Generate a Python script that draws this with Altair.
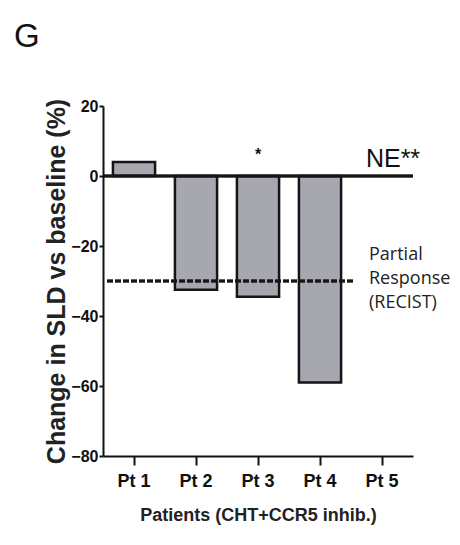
import altair as alt
import pandas as pd

patients = ["Pt 1", "Pt 2", "Pt 3", "Pt 4", "Pt 5"]
bar_patients = ["Pt 1", "Pt 2", "Pt 3", "Pt 4"]
bar_values = [4, -32.5, -34.5, -59]
y_ticks = [-80, -60, -40, -20, 0, 20]
pr_threshold = -30

SANS = "Liberation Sans, Arial"

bars_df = pd.DataFrame({"patient": bar_patients, "value": bar_values})

xscale = alt.Scale(domain=patients, paddingInner=0.32, paddingOuter=0.16)
yscale = alt.Scale(domain=[-80, 20], nice=False, zero=False)

x_axis = alt.Axis(
    title="Patients (CHT+CCR5 inhib.)", labelAngle=0,
    labelFont=SANS, labelFontSize=18, labelFontWeight="bold", labelColor="#111",
    labelPadding=7, tickSize=9, tickWidth=2, tickColor="#111",
    domainWidth=2, domainColor="#111",
    titleFont=SANS, titleFontSize=18, titleFontWeight="bold", titleColor="#222",
    titlePadding=16,
)
y_axis = alt.Axis(
    title="Change in SLD vs baseline (%)", values=y_ticks, grid=False,
    labelFont=SANS, labelFontSize=16, labelFontWeight="bold", labelColor="#111",
    labelPadding=1, tickSize=4, tickWidth=2, tickColor="#111",
    domainWidth=2, domainColor="#111",
    titleFont=SANS, titleFontSize=25, titleFontWeight="bold", titleColor="#222",
    titlePadding=1,
)

base = alt.Chart(bars_df)

bars = base.mark_bar(fill="#a7a7b0", stroke="#151515", strokeWidth=2.5).encode(
    x=alt.X("patient:N", scale=xscale, axis=x_axis, sort=patients),
    y=alt.Y("value:Q", scale=yscale, axis=y_axis),
    y2=alt.datum(0),
)

zero_line = alt.Chart(bars_df).mark_rule(color="#151515", strokeWidth=2.5).encode(
    y=alt.datum(0)
)

pr_line = alt.Chart(bars_df).mark_rule(
    color="#151515", strokeWidth=2.5, strokeDash=[6, 2]
).encode(x=alt.value(4), x2=alt.value(252), y=alt.datum(pr_threshold))

ann_df = pd.DataFrame({"patient": ["Pt 3"], "y": [6.0], "t": ["*"]})
star = alt.Chart(ann_df).mark_text(
    font=SANS, fontSize=16, fontWeight="bold", baseline="middle", color="#111"
).encode(x=alt.X("patient:N", scale=xscale), y=alt.Y("y:Q", scale=yscale), text="t:N")

ne_df = pd.DataFrame({"patient": ["Pt 5"], "y": [2.6], "t": ["NE**"]})
ne = alt.Chart(ne_df).mark_text(
    font=SANS, fontSize=25, baseline="alphabetic", align="center", dx=11, color="#111"
).encode(x=alt.X("patient:N", scale=xscale), y=alt.Y("y:Q", scale=yscale), text="t:N")

pr_df = pd.DataFrame({"y": [-24.0], "t": ["Partial\nResponse\n(RECIST)"]})
pr_text = alt.Chart(pr_df).mark_text(
    font="Open Sans, Liberation Sans", fontSize=18, baseline="alphabetic", align="left",
    lineBreak="\n", lineHeight=24, color="#222"
).encode(x=alt.value(266), y=alt.Y("y:Q", scale=yscale), text="t:N")

g_df = pd.DataFrame({"t": ["G"]})
g_text = alt.Chart(g_df).mark_text(
    font=SANS, fontSize=33, baseline="alphabetic", align="left", color="#111"
).encode(x=alt.value(-89), y=alt.value(-59), text="t:N")

chart = alt.layer(bars, zero_line, pr_line, star, ne, pr_text, g_text).properties(
    width=310, height=350,
    padding={"left": 103, "top": 106, "right": 47, "bottom": 89},
    autosize=alt.AutoSizeParams(type="none"),
    background="white",
).configure_view(stroke=None)

chart.save("out.html", embed_options={"renderer": "svg", "actions": False})
